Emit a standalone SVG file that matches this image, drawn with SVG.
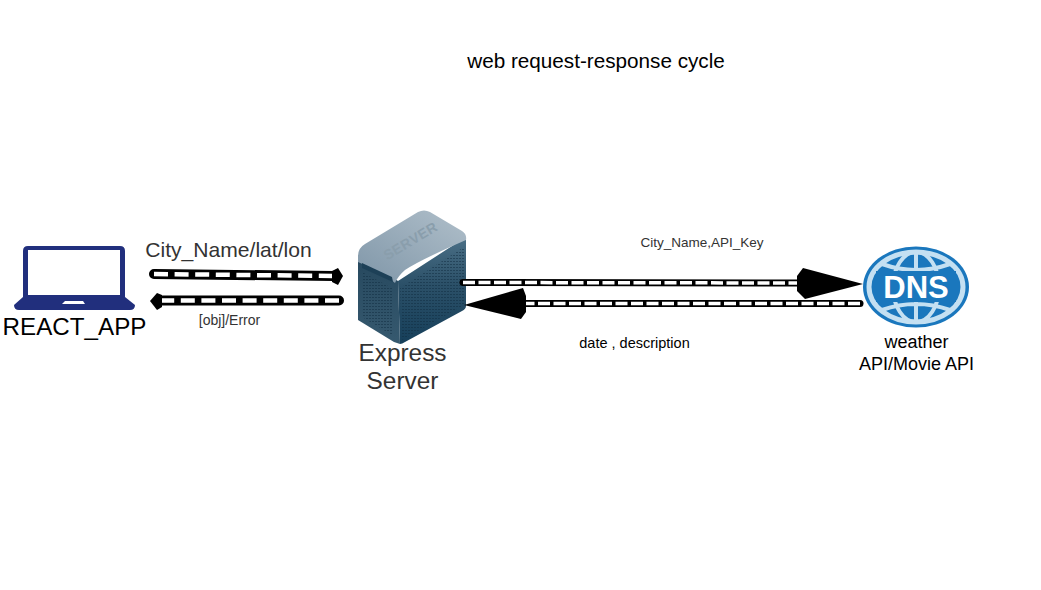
<svg xmlns="http://www.w3.org/2000/svg" width="1041" height="590" viewBox="0 0 1041 590">
<defs>
<linearGradient id="srvR" x1="0" y1="0" x2="0" y2="1"><stop offset="0" stop-color="#4a6f86"/><stop offset="0.45" stop-color="#2b5068"/><stop offset="1" stop-color="#163f5a"/></linearGradient>
<linearGradient id="srvL" x1="0" y1="0" x2="0" y2="1"><stop offset="0" stop-color="#26485e"/><stop offset="1" stop-color="#36596f"/></linearGradient>
<linearGradient id="srvT" x1="0" y1="1" x2="1" y2="0"><stop offset="0" stop-color="#7f96a8"/><stop offset="1" stop-color="#b0bfca"/></linearGradient>
<pattern id="grille" width="3" height="3" patternUnits="userSpaceOnUse"><rect width="2" height="1" fill="#0f2c40" opacity="0.5"/></pattern>
</defs>
<style>
text{font-family:"Liberation Sans",Arial,sans-serif;text-anchor:middle}
.l{fill:#000}
.g{fill:#333}
.b{fill:none;stroke:#000;stroke-width:10;stroke-linecap:round}
.d{fill:none;stroke:#fff;stroke-width:4.500;stroke-dasharray:14 6.600}
.t{fill:none;stroke:#000;stroke-width:7;stroke-linecap:round}
.u{fill:none;stroke:#fff;stroke-width:3.500;stroke-dasharray:12 3.500}
</style>
<text class="l" x="596" y="68" font-size="20.700">web request-response cycle</text>
<g id="react-app">
<path fill="#212f7d" fill-rule="evenodd" d="M28 246 H120 Q125 246 125 251 V297 L135 305 Q135 310 130 310 H19 Q14 310 14 305 L23 297 V251 Q23 246 28 246Z M28 250 V295 H120 V250Z"/>
<path fill="#fff" d="M62 304 L65 301 H83 L85 304Z"/>
<text class="l" x="74.500" y="335" font-size="24.200">REACT_APP</text>
</g>
<g id="express-server">
<path fill="url(#srvL)" d="M358 256 L398 281 L400 344 L394 342 L358 320Z"/>
<path fill="url(#srvR)" d="M398 281 L466 237 V306 Q466 309 462 311 L405 342 Q402 344 400 344Z"/>
<path fill="url(#srvT)" d="M358 256 Q358 248 365 244 L418 212 Q424 209 430 212 L462 231 Q467 234 466 240 Q420 260 405 270 Q398 276 395 283 L390 279 Q372 268 358 262Z"/>
<path fill="url(#grille)" d="M362 272 L392 288 V335 L362 317Z M400 288 L464 247 V305 L402 340Z"/>
<path fill="#1d4057" d="M362 263 L392 277 L393 282 L362 268Z"/>
<text x="0" y="0" transform="translate(413 245) rotate(-31)" font-size="14" font-weight="700" fill="#8a9eac" style="letter-spacing:0.500px">SERVER</text>
<text class="g" x="402.500" y="361" font-size="24.400">Express</text>
<text class="g" x="402.500" y="389" font-size="24.400">Server</text>
</g>
<g id="dns-api">
<ellipse cx="916" cy="287" rx="53" ry="40.500" fill="#1a77bd"/>
<ellipse cx="916" cy="287" rx="47" ry="35" fill="none" stroke="#c4e0f2" stroke-width="5"/>
<ellipse cx="916" cy="287" rx="23" ry="35" fill="none" stroke="#c4e0f2" stroke-width="4"/>
<path fill="none" stroke="#c4e0f2" stroke-width="4" d="M916 252 V322 M882 264 Q916 276 950 264 M882 310 Q916 298 950 310"/>
<rect x="876" y="271" width="80" height="31" fill="#1a77bd"/>
<text x="916" y="298" font-size="31" font-weight="700" fill="#fff">DNS</text>
<text class="l" x="916.500" y="348" font-size="18">weather</text>
<text class="l" x="916.500" y="370" font-size="18">API/Movie API</text>
</g>
<g id="connectors">
<path class="b" d="M154 274 L334 276"/>
<path class="d" d="M154 274 L334 276"/>
<path d="M332 271 L338 268 L343 276 L338 285 L332 282Z"/>
<path class="b" d="M339 300.500 L160 300.500"/>
<path class="d" d="M339 300.500 L160 300.500"/>
<path d="M162 295 L157 293 L150 301 L157 310 L162 307Z"/>
<path class="t" d="M463 282.500 L800 283"/>
<path class="u" d="M463 282.500 L800 283"/>
<path d="M797 276 L803 268 L863 284 L805 299 L797 291Z"/>
<path class="t" d="M860 303.500 L525 303.500"/>
<path class="u" d="M860 303.500 L525 303.500"/>
<path d="M526 296 L523 288 L464 305 L521 319 L526 312Z"/>
</g>
<text class="g" x="228.500" y="257" font-size="21.100">City_Name/lat/lon</text>
<text class="g" x="229.500" y="325" font-size="14">[obj]/Error</text>
<text class="g" x="702" y="247" font-size="13.500">City_Name,API_Key</text>
<text class="l" x="634.500" y="348" font-size="14.500">date , description</text>
</svg>
